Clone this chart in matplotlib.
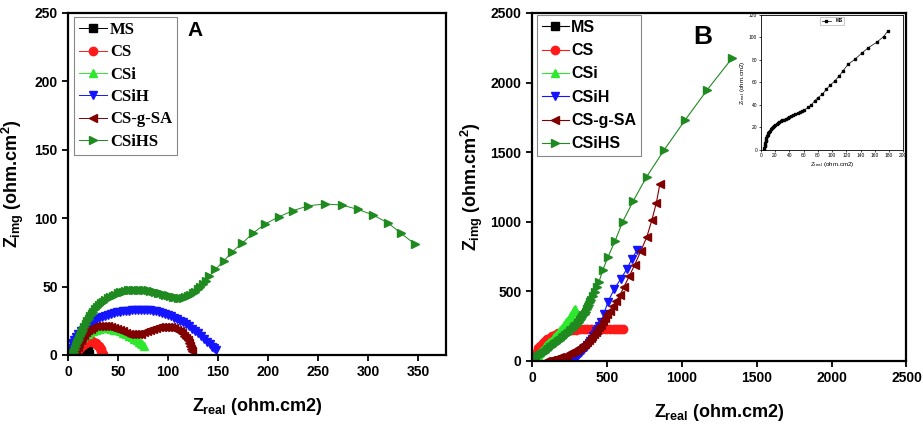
import matplotlib
matplotlib.use("Agg")
import matplotlib.pyplot as plt
from matplotlib.lines import Line2D

plt.rcParams['font.family'] = ['Liberation Sans', 'DejaVu Sans']
plt.rcParams['font.weight'] = 'bold'
plt.rcParams['mathtext.fontset'] = 'custom'
plt.rcParams['mathtext.rm'] = 'Liberation Sans:bold'
plt.rcParams['mathtext.it'] = 'Liberation Sans:bold'
plt.rcParams['mathtext.bf'] = 'Liberation Sans:bold'

series_names = ["MS", "CS", "CSi", "CSiH", "CS-g-SA", "CSiHS"]
series_colors = ["#000000", "#ff1a1a", "#2ee82e", "#1414ff", "#800000", "#1f8a1f"]
series_markers = ["s", "o", "^", "v", "<", ">"]

# ---------------- Panel A data ----------------
MS_A_x = [12.5, 13.0, 13.8, 14.8, 16.0, 17.3, 18.5, 19.5, 20.3, 20.8]
MS_A_y = [0.3, 1.5, 2.6, 3.4, 4.0, 4.2, 4.0, 3.3, 2.2, 0.9]

CS_A_x = [8.5, 10.0, 11.5, 13.0, 14.5, 16.0, 17.5, 19.0, 20.5, 22.0, 23.5, 25.0,
          26.5, 28.0, 29.3, 30.5, 31.6, 32.6, 33.4, 34.1, 34.7]
CS_A_y = [2.0, 3.8, 5.2, 6.5, 7.5, 8.4, 9.1, 9.6, 9.9, 10.0, 9.9, 9.6,
          9.1, 8.4, 7.5, 6.5, 5.4, 4.2, 3.0, 1.8, 0.8]

CSi_A_x = [6.5, 8, 9.5, 11, 13, 15, 17, 19.5, 22, 25, 28, 31, 34, 37, 40, 43, 46,
           49, 52, 55, 58, 61, 63.5, 66, 68.5, 70.5, 72.5, 74, 75.5]
CSi_A_y = [1, 4, 6.5, 8.8, 11, 12.8, 14.3, 15.6, 16.8, 17.8, 18.6, 19.1, 19.4,
           19.5, 19.4, 19.1, 18.6, 18, 17.2, 16.3, 15.3, 14.2, 13.1, 12, 10.8,
           9.8, 8.8, 7.8, 6.8]

CSiH_A_x = [2, 4, 6, 8, 10, 13, 16, 19, 22, 25, 28, 31, 34, 37, 40, 43, 46, 49,
            52, 55, 58, 61, 64, 67, 70, 73, 76, 79, 82, 85, 88, 91, 94, 97, 100,
            103, 106, 109, 112, 115, 118, 121, 124, 127, 130, 133, 136, 139,
            141.5, 144, 146, 148]
CSiH_A_y = [5, 8.5, 11, 13.3, 15.4, 17.5, 19.5, 21.3, 22.9, 24.3, 25.6, 26.7,
            27.7, 28.6, 29.4, 30.1, 30.7, 31.2, 31.6, 32, 32.3, 32.5, 32.7,
            32.8, 32.9, 32.9, 32.9, 32.8, 32.6, 32.3, 31.9, 31.4, 30.8, 30.1,
            29.3, 28.4, 27.4, 26.3, 25.1, 23.8, 22.4, 20.9, 19.3, 17.6, 15.8,
            13.9, 11.9, 9.8, 8, 6.2, 4.8, 3.5]

CSgSA_A_x = [8, 9.5, 11, 12.5, 14, 16, 18, 20, 22.5, 25, 28, 31, 34, 37, 40, 43,
             46, 49, 52, 55, 58, 61, 64, 67, 70, 73, 76, 79, 82, 85, 88, 91, 94,
             97, 100, 103, 106, 109, 111.5, 114, 116, 118, 119.5, 121, 122, 123,
             123.5]
CSgSA_A_y = [3, 6, 8.5, 10.8, 12.8, 14.8, 16.5, 17.9, 19.2, 20.2, 20.9, 21.3,
             21.4, 21.3, 21, 20.5, 19.8, 19, 18.1, 17.2, 16.3, 15.6, 15.1, 15,
             15.2, 15.7, 16.5, 17.4, 18.3, 19.1, 19.8, 20.3, 20.6, 20.7, 20.6,
             20.2, 19.5, 18.5, 17.3, 15.8, 14.2, 12.4, 10.6, 8.6, 6.6, 4.6, 2.6]

CSiHS_A_x = [4.5, 5.5, 6.5, 7.5, 8.5, 9.5, 10.5, 11.5, 12.5, 13.5, 14.5, 16, 17.5,
             19, 20.5, 22, 23.5, 25, 27, 29, 31, 33, 35, 37, 39.5, 42, 44.5, 47,
             49.5, 52, 54.5, 57, 59.5, 62, 64.5, 67, 69.5, 72, 74.5, 77, 79.5,
             82, 84.5, 87, 89.5, 92, 94.5, 97, 99.5, 102, 104.5, 107, 109.5, 112,
             114.5, 117, 119.5, 122, 124.5, 127, 129.5, 132, 134.5, 137.5, 141,
             147.4, 155.8, 164.2, 174.2, 184.9, 196.6, 211, 225, 240.4, 257,
             273.8, 289.5, 304.6, 320, 333, 347]
CSiHS_A_y = [0.5, 2.5, 4.5, 6.5, 8.5, 10.3, 12, 13.7, 15.3, 16.8, 18.3, 20.5,
             22.6, 24.6, 26.5, 28.3, 30, 31.5, 33.3, 34.9, 36.4, 37.8, 39, 40.1,
             41.3, 42.4, 43.3, 44.2, 45, 45.7, 46.3, 46.8, 47.2, 47.5, 47.7,
             47.8, 47.8, 47.8, 47.7, 47.5, 47.2, 46.9, 46.5, 46.1, 45.6, 45.1,
             44.6, 44.1, 43.6, 43.1, 42.7, 42.3, 42, 41.9, 42, 42.3, 42.9, 43.8,
             45, 46.4, 48, 49.8, 51.8, 54.4, 57.4, 62.6, 68.7, 75.5, 81.7, 89,
             95.5, 101.1, 105.5, 109.1, 110.4, 109.6, 106.5, 102.5, 96.5, 89, 81]

# ---------------- Panel B data ----------------
# MS (only visible in the inset of panel B)
MS_B_x = [5, 5.2, 5.5, 5.8, 6.2, 6.7, 7.3, 8, 8.8, 9.7, 10.7, 11.8, 13, 14.3,
          15.7, 17.2, 18.8, 20.5, 22.3, 24.2, 26.2, 28.3, 30.5, 32.8, 35.2,
          37.7, 40.3, 43, 45.8, 48.7, 51.7, 54.8, 58, 61.3, 66, 70.8, 75.5,
          80.2, 86.3, 92, 97.6, 103.8, 110, 115.6, 122.6, 132, 141.5, 151,
          162.7, 172.2, 178.3]
MS_B_y = [0, 1.5, 3, 4.5, 6, 7.5, 9, 10.5, 11.9, 13.2, 14.5, 15.7, 16.9, 18, 19,
          20, 20.9, 21.8, 22.7, 23.6, 24.5, 25.3, 26.1, 26.9, 27.7, 28.5, 29.3,
          30.1, 30.9, 31.7, 32.5, 33.3, 34.2, 35.1, 37.7, 39.8, 43.4, 46.4,
          49.3, 53.8, 57.6, 61.2, 65.7, 70.4, 76.1, 80.5, 85.9, 90.9, 95.7,
          100.7, 105.8]

CS_B_x = [10, 20, 30, 42, 55, 70, 85, 100, 117, 135, 155, 175, 197, 220, 245,
          270, 295, 320, 345, 370, 395, 420, 445, 470, 495, 520, 545, 570, 590,
          605]
CS_B_y = [20, 45, 68, 90, 110, 128, 143, 155, 167, 178, 190, 200, 208, 215, 220,
          224, 226, 228, 229, 230, 230, 230, 230.5, 231, 231, 231, 231.5, 232,
          232, 232]

CSi_B_x = [5, 12, 20, 28, 37, 46, 56, 66, 77, 88, 100, 112, 124, 137, 150, 163,
           176, 190, 203, 216, 229, 241, 252, 262, 271, 279, 285]
CSi_B_y = [5, 13, 23, 33, 44, 56, 68, 81, 94, 107, 120, 133, 145, 159, 173, 187,
           201, 220, 239, 259, 278, 296, 315, 333, 350, 365, 377]

CSiH_B_x = [255, 263, 271, 280, 289, 298, 308, 318, 328, 338, 348, 358, 368, 378,
            388, 398, 408, 418, 428, 438, 448, 463, 480, 507, 548, 591, 633, 666,
            702]
CSiH_B_y = [0, 4, 10, 17, 25, 34, 44, 55, 66, 78, 90, 103, 117, 131, 146, 161,
            177, 194, 212, 231, 251, 280, 340, 425, 515, 588, 660, 732, 798]

CSgSA_B_x = [95, 110, 125, 140, 156, 172, 188, 204, 220, 236, 252, 268, 283, 298,
             313, 327, 341, 354, 367, 379, 391, 402, 413, 424, 435, 446, 458,
             472, 487, 503, 520, 540, 563, 588, 615, 648, 685, 727, 767, 800,
             830, 853]
CSgSA_B_y = [0, 3, 6, 10, 15, 20, 26, 32, 39, 46, 54, 62, 71, 80, 90, 101, 112,
             124, 137, 150, 164, 178, 193, 209, 225, 242, 262, 284, 308, 334,
             362, 394, 432, 475, 535, 607, 690, 792, 893, 1012, 1136, 1268]

CSiHS_B_x = [3, 10, 18, 28, 40, 52, 63, 73, 85, 97, 110, 123, 135, 147, 160, 173,
             186, 198, 210, 222, 233, 243, 253, 263, 272, 281, 289, 297, 305,
             313, 321, 329, 336, 343, 351, 358, 366, 373, 380, 388, 396, 407,
             418, 432, 447, 473, 507, 555, 605, 676, 766, 884, 1020, 1171, 1336]
CSiHS_B_y = [2, 9, 17, 26, 36, 45, 52, 58, 68, 78, 89, 100, 110, 120, 131, 143,
             154, 164, 174, 184, 194, 203, 213, 222, 232, 242, 252, 261, 271,
             281, 292, 304, 315, 327, 341, 355, 372, 389, 405, 421, 437, 465,
             496, 531, 568, 655, 747, 864, 1000, 1150, 1325, 1519, 1728, 1950,
             2176]

A_xticks = [0, 50, 100, 150, 200, 250, 300, 350]
A_yticks = [0, 50, 100, 150, 200, 250]
B_xticks = [0, 500, 1000, 1500, 2000, 2500]
B_yticks = [0, 500, 1000, 1500, 2000, 2500]
inset_xticks = [0, 20, 40, 60, 80, 100, 120, 140, 160, 180, 200]
inset_yticks = [0, 20, 40, 60, 80, 100, 120]

A_data = [(MS_A_x, MS_A_y), (CS_A_x, CS_A_y), (CSi_A_x, CSi_A_y),
          (CSiH_A_x, CSiH_A_y), (CSgSA_A_x, CSgSA_A_y), (CSiHS_A_x, CSiHS_A_y)]
B_data = [None, (CS_B_x, CS_B_y), (CSi_B_x, CSi_B_y),
          (CSiH_B_x, CSiH_B_y), (CSgSA_B_x, CSgSA_B_y), (CSiHS_B_x, CSiHS_B_y)]

fig = plt.figure(figsize=(9.23, 4.26), dpi=100)
axA = fig.add_axes([0.0737, 0.1667, 0.4095, 0.8028])
axB = fig.add_axes([0.5764, 0.1526, 0.4057, 0.8169])


def style_axis(ax, xt, yt, xlim, ylim):
    ax.set_xlim(*xlim)
    ax.set_ylim(*ylim)
    ax.set_xticks(xt)
    ax.set_yticks(yt)
    for s in ax.spines.values():
        s.set_linewidth(1.6)
    ax.tick_params(direction='out', length=4, width=1.3, labelsize=10,
                   top=False, right=False)
    for lab in ax.get_xticklabels() + ax.get_yticklabels():
        lab.set_fontweight('bold')


leg_kw = dict(loc='upper left', borderaxespad=0, frameon=True, fancybox=False,
              edgecolor='#888888', framealpha=1, handlelength=1.7,
              handletextpad=0.15, borderpad=0.3)

handlesA = []
for (x, y), name, c, m in zip(A_data, series_names, series_colors, series_markers):
    h, = axA.plot(x, y, color=c, lw=0.7, marker=m, ms=6, mec=c, mfc=c, label=name)
    handlesA.append(h)
style_axis(axA, A_xticks, A_yticks, (0, 378), (0, 250))
axA.set_xlabel(r'$Z_{real}$ (ohm.cm2)', fontsize=13, fontweight='bold', labelpad=12)
axA.set_ylabel(r'$Z_{img}$ (ohm.cm$^{2}$)', fontsize=13, fontweight='bold', labelpad=6)
legA = axA.legend(handles=handlesA, bbox_to_anchor=(0.016, 0.988),
                  prop={'family': 'Liberation Serif', 'weight': 'bold', 'size': 12},
                  labelspacing=0.38, **leg_kw)
legA.get_frame().set_linewidth(0.8)
axA.text(0.336, 0.950, 'A', transform=axA.transAxes, fontsize=15,
         fontweight='bold', ha='center', va='center')

handlesB = []
for d, name, c, m in zip(B_data, series_names, series_colors, series_markers):
    if d is None:
        h = Line2D([], [], color=c, lw=0.8, marker=m, ms=6, mec=c, mfc=c, label=name)
    else:
        h, = axB.plot(d[0], d[1], color=c, lw=0.8, marker=m, ms=6, mec=c, mfc=c,
                      label=name)
    handlesB.append(h)
style_axis(axB, B_xticks, B_yticks, (0, 2500), (0, 2500))
axB.set_xlabel(r'$Z_{real}$ (ohm.cm2)', fontsize=13, fontweight='bold', labelpad=12)
axB.set_ylabel(r'$Z_{img}$ (ohm.cm$^{2}$)', fontsize=13, fontweight='bold', labelpad=4)
legB = axB.legend(handles=handlesB, bbox_to_anchor=(0.013, 0.994),
                  prop={'family': 'Liberation Sans', 'weight': 'bold', 'size': 11.5},
                  labelspacing=0.52, **leg_kw)
legB.get_frame().set_linewidth(0.8)
axB.text(0.457, 0.931, 'B', transform=axB.transAxes, fontsize=19,
         fontweight='bold', ha='center', va='center')

# inset
axI = fig.add_axes([0.8242, 0.6486, 0.1545, 0.3162])
axI.plot(MS_B_x, MS_B_y, color='black', lw=0.5, marker='s', ms=1.8, label='MS')
axI.set_xlim(0, 200)
axI.set_ylim(0, 120)
axI.set_xticks(inset_xticks)
axI.set_yticks(inset_yticks)
axI.tick_params(direction='out', length=1.5, width=0.5, labelsize=3.5, pad=1)
for lab in axI.get_xticklabels() + axI.get_yticklabels():
    lab.set_fontweight('normal')
for s in axI.spines.values():
    s.set_linewidth(0.6)
axI.set_xlabel(r'$\mathregular{Z_{real}}$ (ohm.cm2)', fontsize=4.5,
               fontweight='normal', labelpad=1.5)
axI.set_ylabel(r'$\mathregular{Z_{real}}$ (ohm.cm2)', fontsize=4.5,
               fontweight='normal', labelpad=1.5)
legI = axI.legend(loc='upper center', prop={'size': 3.5}, frameon=True,
                  fancybox=False, edgecolor='#888888', handlelength=2,
                  borderpad=0.3, borderaxespad=0.4)
legI.get_frame().set_linewidth(0.4)

fig.savefig('out.png', dpi=100)
